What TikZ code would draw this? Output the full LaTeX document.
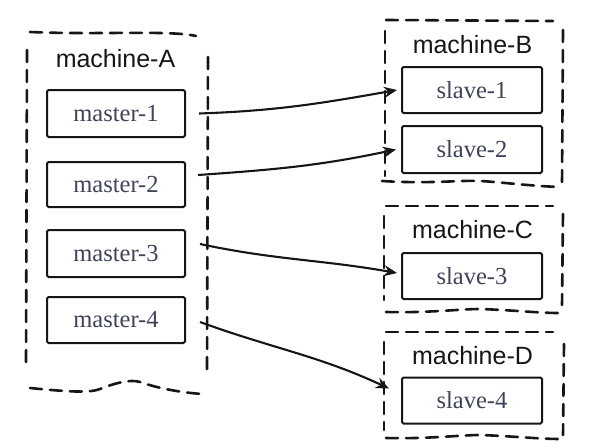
\documentclass[tikz,border=0pt]{standalone}
\usepackage{fontspec}
\setmainfont{Liberation Serif}
\newfontfamily\labelfont{Liberation Sans}
\usetikzlibrary{arrows.meta}
\definecolor{ink}{HTML}{161616}
\definecolor{slatetext}{HTML}{3E4358}
\tikzset{
  x=1pt, y=1pt,
  outline/.style={draw=ink, line width=2.6pt, dash pattern=on 12pt off 8pt, line cap=round},
  innerbox/.style={draw=ink, line width=2pt, rectangle, rounded corners=1.5pt,
    minimum width=138pt, minimum height=46pt, inner sep=0pt,
    text=slatetext, font=\fontsize{24.5}{28}\selectfont},
  machinelabel/.style={anchor=base, text=ink, font=\labelfont\fontsize{25}{28}\selectfont, inner sep=0pt},
  link/.style={draw=ink, line width=2.1pt, -{Stealth[length=13pt,width=11pt]}}
}
\begin{document}
\begin{tikzpicture}
\useasboundingbox (0,0) rectangle (591,-445);

% machine-A outline
\draw[outline] (30,-32) .. controls (100,-35) and (170,-30) .. (196,-36);
\draw[outline] (27,-50) -- (26,-366);
\draw[outline] (208,-57) -- (207,-370);
\draw[outline] (30,-388) .. controls (70,-392) and (90,-393) .. (100,-389)
  .. controls (115,-383) and (130,-379) .. (140,-382)
  .. controls (160,-389) and (185,-393) .. (203,-394);
\node[machinelabel] (la) at (115.5,-67) {machine-A};

% machine-B outline
\draw[outline] (386,-20) -- (553,-21);
\draw[outline] (385,-31) -- (385,-176);
\draw[outline] (563,-30) -- (562,-184);
\draw[outline] (382,-181) .. controls (430,-184) and (460,-180) .. (480,-181)
  .. controls (500,-182) and (530,-186) .. (560,-187);
\node[machinelabel] (lb) at (472.5,-53) {machine-B};

% machine-C outline
\draw[outline] (386,-206) -- (553,-206);
\draw[outline] (384,-216) -- (384,-300);
\draw[outline] (563,-214) -- (562,-305);
\draw[outline] (386,-312) .. controls (430,-313) and (460,-309) .. (480,-309)
  .. controls (510,-310) and (540,-313) .. (558,-313);
\node[machinelabel] (lc) at (472.5,-238) {machine-C};

% machine-D outline
\draw[outline] (386,-332) -- (553,-332);
\draw[outline] (384,-342) -- (384,-430);
\draw[outline] (564,-344) -- (563,-435);
\draw[outline] (386,-438) .. controls (430,-439) and (460,-435) .. (480,-435)
  .. controls (510,-436) and (540,-439) .. (560,-439);
\node[machinelabel] (ld) at (472.5,-364) {machine-D};

% masters
\node[innerbox, minimum height=47pt] (m1) at (116,-113.5) {master-1};
\node[innerbox, minimum height=45pt] (m2) at (116,-184.5) {master-2};
\node[innerbox, minimum height=47pt] (m3) at (116,-253.5) {master-3};
\node[innerbox, minimum height=46pt] (m4) at (116,-320) {master-4};

% slaves
\node[innerbox, minimum width=140pt] (s1) at (472,-90) {slave-1};
\node[innerbox, minimum width=140pt, minimum height=47pt] (s2) at (472,-149.5) {slave-2};
\node[innerbox, minimum width=140pt] (s3) at (472,-276) {slave-3};
\node[innerbox, minimum width=140pt] (s4) at (472,-400.5) {slave-4};

% links
\draw[link] ([xshift=13pt]m1.east) to[out=2, in=190] ([xshift=-4pt]s1.west);
\draw[link] ([xshift=12pt, yshift=9.5pt]m2.east) to[out=4, in=192] ([xshift=-5pt]s2.west);
\draw[link] ([xshift=14pt, yshift=9.5pt]m3.east) to[out=-12, in=170] ([xshift=-4pt, yshift=3pt]s3.west);
\draw[link] ([xshift=14pt, yshift=-2pt]m4.east) to[out=-20, in=155] ([xshift=-12pt, yshift=12pt]s4.west);
\end{tikzpicture}
\end{document}
